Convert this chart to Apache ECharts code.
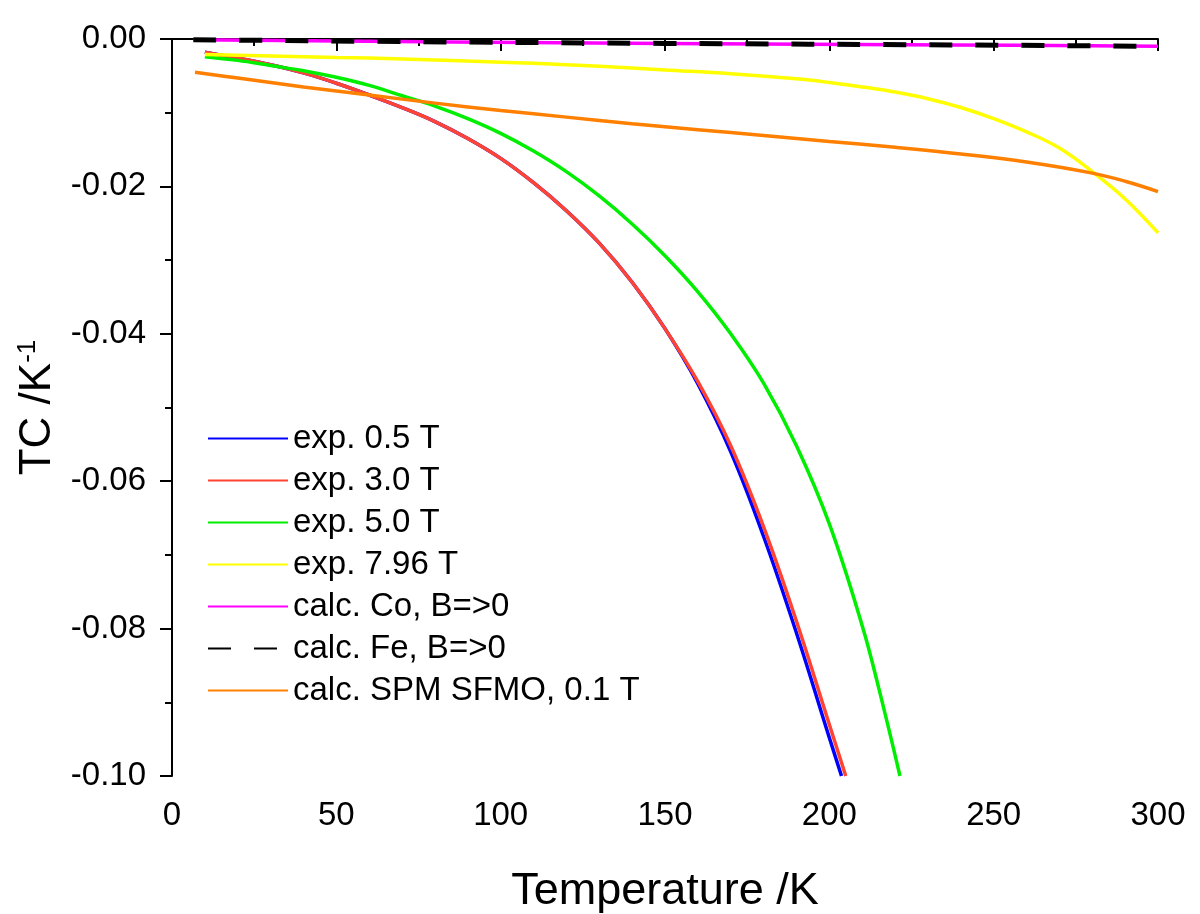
<!DOCTYPE html>
<html>
<head>
<meta charset="utf-8">
<title>TC vs Temperature</title>
<script src="https://cdn.jsdelivr.net/npm/echarts@6/dist/echarts.min.js"></script>
<style>
  html, body { margin: 0; padding: 0; background: #fff; }
  #main { width: 1200px; height: 914px; }
</style>
</head>
<body>
<div id="main"></div>
<script>
// series data (temperature in K, TC in 1/K)
const tBlue = [10, 20, 30, 40, 50, 60, 70, 80, 90, 100, 110, 120, 130, 140, 150, 160, 170, 180, 190, 200, 203.7];
const tcBlue = [-0.0018, -0.0026, -0.0035, -0.0046, -0.0060, -0.0076, -0.0093, -0.0112, -0.0135, -0.0162, -0.0195, -0.0233, -0.0277, -0.0330, -0.0393, -0.0468, -0.0560, -0.0675, -0.0806, -0.0948, -0.1];

const tRed = [10, 20, 30, 40, 50, 60, 70, 80, 90, 100, 110, 120, 130, 140, 150, 160, 170, 180, 190, 200, 205];
const tcRed = [-0.0018, -0.0026, -0.0035, -0.0046, -0.0060, -0.0076, -0.0093, -0.0112, -0.0135, -0.0162, -0.0195, -0.0233, -0.0277, -0.0330, -0.0393, -0.0465, -0.0552, -0.0662, -0.0790, -0.0930, -0.1];

const tGreen = [10, 20, 30, 40, 50, 60, 70, 80, 90, 100, 110, 120, 130, 140, 150, 160, 170, 180, 190, 200, 210, 215, 221.5];
const tcGreen = [-0.0024, -0.0029, -0.0036, -0.0043, -0.0052, -0.0063, -0.0077, -0.0091, -0.0108, -0.0128, -0.0152, -0.0180, -0.0213, -0.0251, -0.0294, -0.0343, -0.0400, -0.0467, -0.0552, -0.0658, -0.0796, -0.0880, -0.1];

const tYellow = [10, 30, 50, 70, 90, 110, 130, 150, 170, 190, 200, 210, 220, 230, 240, 250, 260, 270, 280, 290, 300];
const tcYellow = [-0.0021, -0.0023, -0.0025, -0.0027, -0.0030, -0.0033, -0.0037, -0.0042, -0.0047, -0.0054, -0.0059, -0.0065, -0.0072, -0.0081, -0.0093, -0.0108, -0.0126, -0.0148, -0.0180, -0.0217, -0.0263];

const tCalc = [6.5, 85, 150, 237, 300];
const tcCo = [-0.0001, -0.0004, -0.0006, -0.0008, -0.0010];
const tcFe = [-0.0001, -0.0004, -0.0006, -0.0008, -0.0010];

const tOrange = [7, 20, 40, 60, 80, 100, 120, 140, 160, 180, 200, 220, 240, 260, 280, 290, 300];
const tcOrange = [-0.0045, -0.0053, -0.0065, -0.0076, -0.0087, -0.0097, -0.0106, -0.0115, -0.0123, -0.0131, -0.0139, -0.0147, -0.0156, -0.0167, -0.0182, -0.0193, -0.0207];

const names = ['exp. 0.5 T', 'exp. 3.0 T', 'exp. 5.0 T', 'exp. 7.96 T', 'calc. Co, B=>0', 'calc. Fe, B=>0', 'calc. SPM SFMO, 0.1 T'];
const colors = ['#0000ff', '#ff4433', '#00ee00', '#ffff00', '#ff00ff', '#000000', '#ff8000'];

const zip = (xs, ys) => xs.map((x, i) => [x, ys[i]]);
const FONT = '"Liberation Sans", Arial, sans-serif';

function lineSeries(i, xs, ys, extra) {
  return Object.assign({
    name: names[i],
    type: 'line',
    data: zip(xs, ys),
    symbol: 'none',
    smooth: 0.4,
    lineStyle: { color: colors[i], width: 3.5 },
    itemStyle: { color: colors[i] }
  }, extra || {});
}

const chart = echarts.init(document.getElementById('main'));
const option = {
  animation: false,
  backgroundColor: '#ffffff',
  textStyle: { fontFamily: FONT },
  grid: { left: 172, right: 42, top: 39, bottom: 138, containLabel: false, outerBoundsMode: 'none' },
  legend: {
    orient: 'vertical',
    left: 207,
    top: 422,
    padding: 0,
    itemWidth: 80,
    itemHeight: 14,
    itemGap: 9,
    itemStyle: { opacity: 0, borderWidth: 0 },
    textStyle: { fontSize: 33, color: '#000', fontFamily: FONT },
    data: names
  },
  xAxis: {
    type: 'value',
    min: 0,
    max: 300,
    interval: 50,
    name: 'Temperature /K',
    nameLocation: 'middle',
    nameGap: 93,
    nameTextStyle: { fontSize: 45, color: '#000', fontFamily: FONT },
    axisLine: { lineStyle: { color: '#000', width: 2 } },
    axisTick: { length: 12, lineStyle: { width: 2, color: '#000' } },
    minorTick: { show: true, splitNumber: 2, length: 7, lineStyle: { width: 2, color: '#000' } },
    axisLabel: { fontSize: 33, color: '#000', margin: 23, fontFamily: FONT },
    splitLine: { show: false }
  },
  yAxis: {
    type: 'value',
    min: -0.1,
    max: 0,
    interval: 0.02,
    name: 'TC /K{sup|-1}',
    nameLocation: 'middle',
    nameGap: 107,
    nameTextStyle: {
      fontSize: 44, color: '#000', fontFamily: FONT,
      rich: {
        sup: { fontSize: 26, color: '#000', fontFamily: FONT, padding: [0, 0, 20, 0] }
      }
    },
    axisLine: { onZero: false, lineStyle: { color: '#000', width: 2 } },
    axisTick: { length: 12, lineStyle: { width: 2, color: '#000' } },
    minorTick: { show: true, splitNumber: 2, length: 7, lineStyle: { width: 2, color: '#000' } },
    axisLabel: {
      fontSize: 33, color: '#000', margin: 26, fontFamily: FONT,
      formatter: v => v.toFixed(2)
    },
    splitLine: { show: false }
  },
  series: [
    lineSeries(0, tBlue, tcBlue),
    lineSeries(1, tRed, tcRed),
    lineSeries(2, tGreen, tcGreen),
    lineSeries(3, tYellow, tcYellow),
    lineSeries(4, tCalc, tcCo),
    lineSeries(5, tCalc, tcFe, { lineStyle: { color: colors[5], width: 5, type: [23, 23] } }),
    lineSeries(6, tOrange, tcOrange)
  ]
};
chart.setOption(option);
</script>
</body>
</html>
